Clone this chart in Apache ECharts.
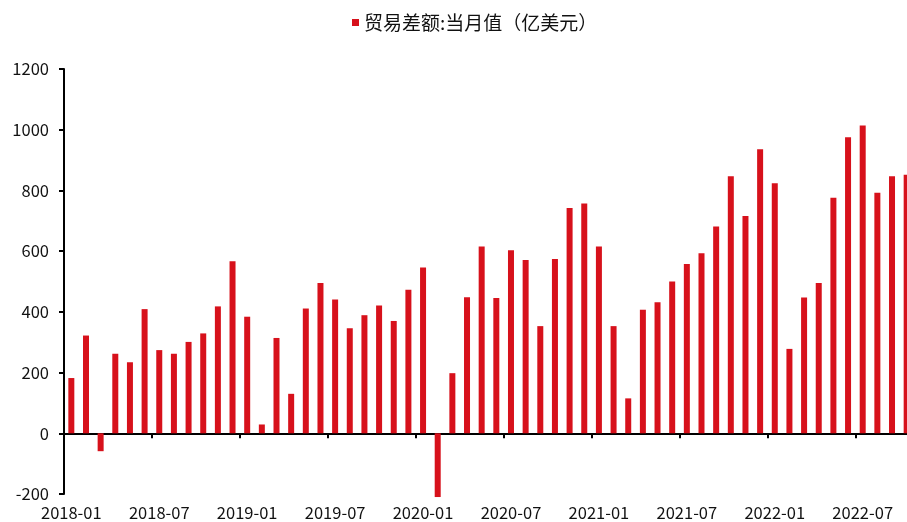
<!DOCTYPE html>
<html>
<head>
<meta charset="utf-8">
<script src="https://cdn.jsdelivr.net/npm/echarts@6/dist/echarts.min.js"></script>
<style>
html,body{margin:0;padding:0;background:#fff;overflow:hidden;width:907px;height:522px;}
#main{width:914px;height:522px;}
</style>
</head>
<body>
<div id="main"></div>
<script>
var categories = [
  '2018-01','2018-02','2018-03','2018-04','2018-05','2018-06','2018-07','2018-08','2018-09','2018-10','2018-11','2018-12',
  '2019-01','2019-02','2019-03','2019-04','2019-05','2019-06','2019-07','2019-08','2019-09','2019-10','2019-11','2019-12',
  '2020-01','2020-02','2020-03','2020-04','2020-05','2020-06','2020-07','2020-08','2020-09','2020-10','2020-11','2020-12',
  '2021-01','2021-02','2021-03','2021-04','2021-05','2021-06','2021-07','2021-08','2021-09','2021-10','2021-11','2021-12',
  '2022-01','2022-02','2022-03','2022-04','2022-05','2022-06','2022-07','2022-08','2022-09','2022-10'
];
var seriesName = '贸易差额:当月值（亿美元）';
var tradeBalance = [
  182, 322, -59, 262, 234, 409, 274, 262, 301, 329, 418, 567,
  384, 29, 314, 130, 411, 495, 441, 346, 389, 421, 370, 473,
  546, -210, 198, 448, 615, 446, 603, 571, 353, 574, 742, 757,
  615, 353, 115, 407, 432, 500, 558, 593, 681, 847, 716, 936,
  824, 278, 447, 495, 776, 975, 1014, 792, 847, 852
];
var yTicks = [-200, 0, 200, 400, 600, 800, 1000, 1200];

var FONT = '"Noto Sans CJK SC", "Noto Sans", sans-serif';
var chart = echarts.init(document.getElementById('main'), null, {renderer: 'canvas', width: 914, height: 522});
chart.setOption({
  animation: false,
  backgroundColor: '#fff',
  textStyle: {fontFamily: FONT},
  legend: {
    data: [seriesName],
    left: 347,
    top: 8,
    itemWidth: 7,
    itemHeight: 7,
    icon: 'rect',
    itemGap: 5,
    textStyle: {fontFamily: FONT, fontSize: 19, color: '#111'}
  },
  grid: {left: 64, right: 0, top: 69, bottom: 28, containLabel: false},
  xAxis: [
    {
      type: 'category',
      data: categories,
      boundaryGap: true,
      axisLine: {show: true, onZero: true, lineStyle: {color: '#000', width: 2}},
      axisTick: {show: true, interval: 5, length: 5, inside: false, lineStyle: {color: '#000', width: 2}},
      axisLabel: {show: false},
      splitLine: {show: false}
    },
    {
      type: 'category',
      data: categories,
      position: 'bottom',
      boundaryGap: true,
      axisLine: {show: false, onZero: false},
      axisTick: {show: false},
      axisLabel: {show: true, interval: 5, margin: 10, fontFamily: FONT, fontSize: 16.5, color: '#111'},
      splitLine: {show: false}
    }
  ],
  yAxis: {
    type: 'value',
    min: yTicks[0],
    max: yTicks[yTicks.length - 1],
    interval: 200,
    axisLine: {show: true, lineStyle: {color: '#000', width: 2}},
    axisTick: {show: true, length: 5, lineStyle: {color: '#000', width: 2}},
    axisLabel: {margin: 15, fontFamily: FONT, fontSize: 16.5, color: '#111', formatter: function (v) { return String(v); }},
    splitLine: {show: false}
  },
  series: [{
    name: seriesName,
    type: 'bar',
    xAxisIndex: 0,
    data: tradeBalance,
    barWidth: 6,
    clip: false,
    itemStyle: {color: '#D7111B'}
  }]
});
</script>
</body>
</html>
